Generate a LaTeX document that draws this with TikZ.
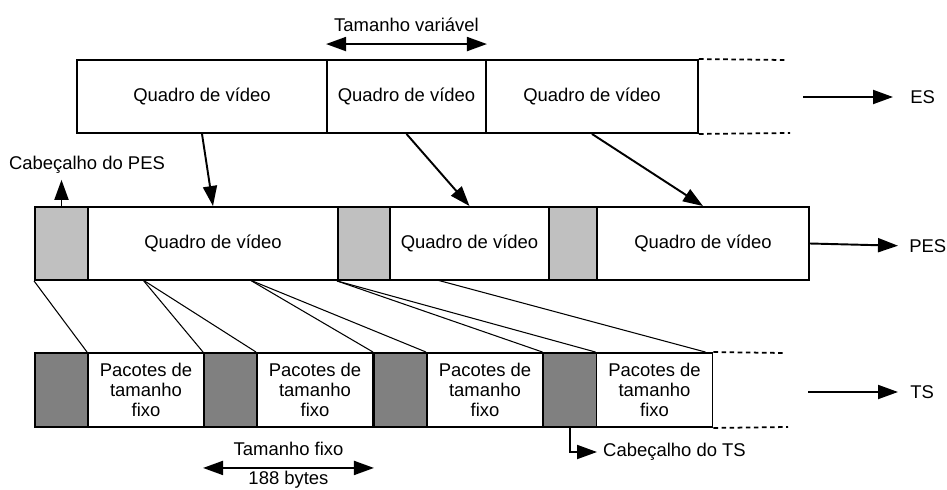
\documentclass[tikz,border=0pt]{standalone}
\usepackage{fontspec}
\setmainfont{Liberation Sans}
\usetikzlibrary{arrows.meta}

\definecolor{pesgray}{RGB}{192,192,192}
\definecolor{tsgray}{RGB}{128,128,128}

\begin{document}
\begin{tikzpicture}[x=0.02cm, y=-0.02cm,
	font=\fontsize{10.5}{11.6}\selectfont,
	box/.style={draw, line width=1.1pt, minimum height=1.46cm, inner sep=0pt},
	hdr/.style={box, fill=pesgray},
	tshdr/.style={box, fill=tsgray, minimum width=1.06cm, minimum height=1.48cm},
	tspkt/.style={box, minimum width=2.32cm, minimum height=1.48cm, align=center},
	arr/.style={-{Triangle[length=4mm,width=2.8mm]}, line width=1.1pt},
	darr/.style={{Triangle[length=4mm,width=2.8mm]}-{Triangle[length=4mm,width=2.8mm]}, line width=1.1pt},
	fan/.style={line width=0.6pt},
	dashln/.style={line width=1pt, dash pattern=on 2.6pt off 2pt}]

	\useasboundingbox (0,0) rectangle (947,490);

	%ES level
	\node[box, minimum width=5cm] (es1) at (202,96.5){Quadro de vídeo};
	\node[box, minimum width=3.18cm] (es2) at (406.5,96.5){Quadro de vídeo};
	\node[box, minimum width=4.24cm] (es3) at (592,96.5){Quadro de vídeo};
	\coordinate (esdt) at (785,60);
	\coordinate (esdb) at (790,133);
	\draw[dashln] (es3.north east) -- (esdt);
	\draw[dashln] (es3.south east) -- (esdb);
	\coordinate (esa) at (803,97);
	\node[anchor=west, inner sep=0pt] (eslbl) at (910,97){ES};
	\draw[arr, shorten >=3.4mm] (esa) -- (eslbl.west);

	%variable size
	\draw[darr] ([yshift=0.3cm]es2.north west) -- ([yshift=0.3cm]es2.north east)
		node[midway, above=3pt] (tamvar){Tamanho variável};

	%PES level
	\node[hdr, minimum width=1.06cm] (pesh1) at (61.5,243.5){};
	\node[box, minimum width=5cm] (pesp1) at (213,243.5){Quadro de vídeo};
	\node[hdr, minimum width=1.04cm] (pesh2) at (364,243.5){};
	\node[box, minimum width=3.18cm] (pesp2) at (469.5,243.5){Quadro de vídeo};
	\node[hdr, minimum width=0.96cm] (pesh3) at (573,243.5){};
	\node[box, minimum width=4.24cm] (pesp3) at (703,243.5){Quadro de vídeo};
	\node[anchor=west, inner sep=0pt] (peslbl) at (909,246){PES};
	\draw[arr, shorten >=2.2mm] (pesp3.east) -- (peslbl.west);

	\node (cabpes) at (87,165){Cabeçalho do PES};
	\draw[arr] (pesh1.north) -- (pesh1.north |- cabpes.south);

	%ES -> PES
	\draw[arr] (es1.south) -- (pesp1.north);
	\draw[arr] (es2.south) -- (pesp2.north);
	\draw[arr] (es3.south) -- (pesp3.north);

	%TS level
	\foreach \i/\x in {1/61.5,2/230.5,3/400.5,4/570}{
		\node[tshdr] (tsh\i) at (\x,390){};
		\node[tspkt] (tsp\i) at (\x+84.5,390){Pacotes de\\tamanho\\fixo};
	}
	\coordinate (tsdt) at (783,353);
	\coordinate (tsdb) at (788,427);
	\draw[dashln] (tsp4.north east) -- (tsdt);
	\draw[dashln] (tsp4.south east) -- (tsdb);
	\coordinate (tsa) at (808,392);
	\node[anchor=west, inner sep=0pt] (tslbl) at (910,392){TS};
	\draw[arr, shorten >=2.4mm] (tsa) -- (tslbl.west);

	%PES -> TS
	\coordinate (f2) at (143,280);
	\coordinate (f3) at (250,280);
	\coordinate (f5) at (437,280);
	\draw[fan] (pesh1.south west) -- (tsp1.north west);
	\draw[fan] (f2) -- (tsh2.north west);
	\draw[fan] (f2) -- (tsp2.north west);
	\draw[fan] (f3) -- (tsh3.north west);
	\draw[fan] (f3) -- (tsp3.north west);
	\draw[fan] (pesh2.south west) -- (tsh4.north west);
	\draw[fan] (pesh2.south west) -- (tsp4.north west);
	\draw[fan] (f5) -- ([xshift=-0.16cm]tsp4.north east);

	%fixed size
	\draw[darr] ([yshift=-0.8cm]tsh2.south west) -- ([yshift=-0.8cm]tsp2.south east)
		node[midway, above=3pt] (tamfix){Tamanho fixo}
		node[midway, below=0pt, inner ysep=1pt] (bytes){188 bytes};

	\node[anchor=west] (cabts) at (597,452){Cabeçalho do TS};
	\draw[arr] (tsh4.south) |- (cabts.west);

\end{tikzpicture}
\end{document}
